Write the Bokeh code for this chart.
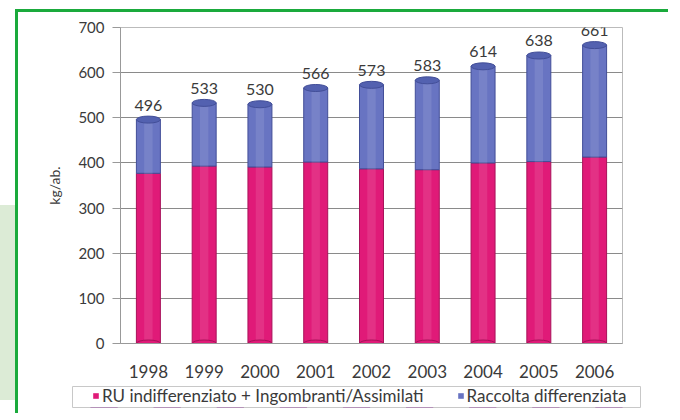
from bokeh.plotting import figure
from bokeh.layouts import column
from bokeh.models import (FactorRange, Range1d, FixedTicker, Legend, LegendItem,
                          ColumnDataSource)
from bokeh.core.properties import value
from bokeh.embed import file_html
from bokeh.resources import INLINE

# ---- data ----
years = ["1998", "1999", "2000", "2001", "2002", "2003", "2004", "2005", "2006"]
indifferenziato = [377, 393, 391, 402, 387, 385, 400, 403, 413]
totals = [496, 533, 530, 566, 573, 583, 614, 638, 661]
differenziata = [t - r for t, r in zip(totals, indifferenziato)]
total_labels = [str(t) for t in totals]
y_ticks = [0, 100, 200, 300, 400, 500, 600, 700]
series_names = ["RU indifferenziato + Ingombranti/Assimilati", "Raccolta differenziata"]

PINK = "#e01a78"
PINK_EDGE = "#a8125a"
BLUE = "#6874c2"
BLUE_EDGE = "#424e98"
FONT = "Lato"
TXT = "#3a3a3a"

src = ColumnDataSource(dict(years=years, ru=indifferenziato, rd=differenziata,
                            tot=totals, lab=total_labels,
                            zero=[0] * len(years)))

# ---------------- main chart ----------------
p = figure(width=650, height=371, x_range=FactorRange(*years), y_range=Range1d(0, 700),
           output_backend="svg", toolbar_location=None,
           min_border_left=102, min_border_right=46, min_border_top=15, min_border_bottom=40)

p.background_fill_color = "white"
p.border_fill_color = "white"
p.outline_line_color = "#bbbbbb"

W = 0.43
r_ru = p.vbar(x="years", bottom="zero", top="ru", width=W, source=src,
              fill_color=PINK, line_color=PINK_EDGE, line_width=1)
r_rd = p.vbar(x="years", bottom="ru", top="tot", width=W, source=src,
              fill_color=BLUE, line_color=BLUE_EDGE, line_width=1)
# cylinder highlight
p.vbar(x="years", bottom="zero", top="tot", width=W * 0.35, source=src,
       fill_color="white", fill_alpha=0.10, line_color=None)
# cylinder caps
p.ellipse(x="years", y="zero", width=W, height=7, height_units="screen", source=src,
          fill_color=PINK, line_color=PINK_EDGE, line_width=1)
p.ellipse(x="years", y="tot", width=W, height=7, height_units="screen", source=src,
          fill_color="#5361b0", line_color=BLUE_EDGE, line_width=1)

# value labels
p.text(x="years", y="tot", text="lab", source=src, y_offset=-9,
       text_align="center", text_baseline="bottom",
       text_font=value(FONT), text_font_size="16px", text_color=TXT)

# axes
p.yaxis.ticker = FixedTicker(ticks=y_ticks)
p.yaxis.axis_label = "kg/ab."
p.yaxis.axis_label_text_font = FONT
p.yaxis.axis_label_text_font_style = "normal"
p.yaxis.axis_label_text_font_size = "14px"
p.yaxis.axis_label_text_color = TXT
p.yaxis.axis_label_standoff = 12
p.yaxis.major_label_text_font = FONT
p.yaxis.major_label_text_font_size = "15px"
p.yaxis.major_label_text_color = TXT
p.yaxis.axis_line_color = "#999999"
p.yaxis.major_tick_line_color = "#999999"
p.yaxis.major_tick_out = 8
p.yaxis.major_tick_in = 0
p.yaxis.minor_tick_line_color = None
p.yaxis.major_label_standoff = 8

p.xaxis.major_label_text_font = FONT
p.xaxis.major_label_text_font_size = "17px"
p.xaxis.major_label_text_color = TXT
p.xaxis.axis_line_color = "#999999"
p.xaxis.major_tick_line_color = None
p.xaxis.major_label_standoff = 15

p.xgrid.grid_line_color = None
p.ygrid.grid_line_color = "#8a8a8a"
p.ygrid.grid_line_width = 1

# ---------------- legend strip ----------------
lg = figure(width=650, height=30, x_range=FactorRange(*years), y_range=Range1d(5000, 5001),
            output_backend="svg", toolbar_location=None,
            x_axis_location=None, y_axis_location=None,
            min_border_left=54, min_border_right=28, min_border_top=3, min_border_bottom=6)
lg.background_fill_color = "white"
lg.border_fill_color = "white"
lg.outline_line_color = "#c8c8c8"
lg.xgrid.visible = False
lg.ygrid.visible = False
l_ru = lg.vbar(x="years", bottom="zero", top="ru", width=W, source=src,
               fill_color=PINK, line_color=None)
l_rd = lg.vbar(x="years", bottom="ru", top="tot", width=W, source=src,
               fill_color=BLUE, line_color=None)
legend = Legend(items=[LegendItem(label=series_names[0], renderers=[l_ru]),
                       LegendItem(label=series_names[1], renderers=[l_rd])],
                orientation="horizontal", location=(20, 1),
                label_text_font=FONT, label_text_font_size="17px", label_text_color=TXT,
                glyph_width=7, glyph_height=7, label_standoff=3, spacing=33,
                padding=0, margin=0, border_line_color=None,
                background_fill_alpha=0, label_height=18)
lg.add_layout(legend, "center")

inner = column(p, column(lg), styles={
    "border-top": "3px solid #1aaa3c",
    "border-left": "3px solid #1aaa3c",
    "margin-left": "15px",
    "margin-top": "9px",
})
outer = column(inner, styles={
    "background": "linear-gradient(#dcebd6, #dcebd6) 0px 205px / 15px 195px no-repeat",
})

open("out.html", "w").write(file_html(outer, INLINE))
